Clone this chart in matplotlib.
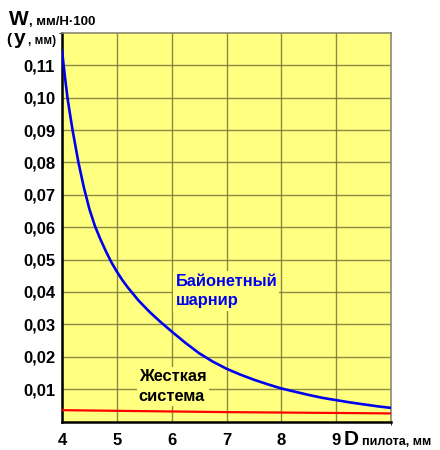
import matplotlib
matplotlib.use("Agg")
import matplotlib.pyplot as plt

plt.rcParams['font.family'] = ['Liberation Sans', 'DejaVu Sans']

# bayonet joint curve
d_bay = [4.00, 4.05, 4.10, 4.15, 4.20, 4.30, 4.40, 4.50, 4.60, 4.70, 4.80, 4.90,
         5.00, 5.10, 5.20, 5.40, 5.60, 5.80, 6.00, 6.25, 6.50, 6.75, 7.00,
         7.25, 7.50, 7.75, 8.00, 8.25, 8.50, 8.75, 9.00, 9.25, 9.50, 9.75, 10.00]
w_bay = [0.1146, 0.1070, 0.1000, 0.0945, 0.0893, 0.0800, 0.0722, 0.0656, 0.0604, 0.0563,
         0.0526, 0.0492, 0.0463, 0.0437, 0.0414, 0.0373, 0.0338, 0.0307, 0.0278, 0.0243,
         0.0211, 0.0185, 0.0163, 0.0145, 0.0129, 0.0115, 0.0102, 0.0092, 0.0082, 0.0073,
         0.0066, 0.0059, 0.0053, 0.0047, 0.0042]

# rigid system
d_rig = [4.0, 7.0, 10.0]
w_rig = [0.0035, 0.0029, 0.0025]

y_ticks = [0.01, 0.02, 0.03, 0.04, 0.05, 0.06, 0.07, 0.08, 0.09, 0.10, 0.11]
x_ticks = [4, 5, 6, 7, 8, 9]

fig = plt.figure(figsize=(4.4, 4.5), dpi=100)
ax = fig.add_axes([62/440, 1 - 421.5/450, 329/440, 388.5/450])
ax.set_facecolor('#FFFF80')

ax.plot(d_bay, w_bay, color='#0000F0', lw=1.9, zorder=3)
ax.plot(d_rig, w_rig, color='#FF0000', lw=1.6, zorder=3)

ax.set_xlim(4, 10)
ax.set_ylim(0, 0.12)
ax.set_xticks(x_ticks)
ax.set_yticks(y_ticks)
ax.set_xticks([10], minor=True)
ax.set_yticks([0.12], minor=True)
ax.set_xticklabels([str(v) for v in x_ticks])
ax.set_yticklabels([f"{v:.2f}".replace('.', ',') for v in y_ticks])
ax.tick_params(length=0, labelsize=12)
ax.tick_params(axis='x', pad=8)
ax.tick_params(axis='y', pad=5)
for lab in ax.get_xticklabels() + ax.get_yticklabels():
    lab.set_fontweight('bold')
ax.grid(True, color='#77773a', lw=1.0, alpha=0.85, zorder=1)

for s in ['left', 'bottom']:
    ax.spines[s].set_linewidth(1.8)
    ax.spines[s].set_color('black')
for s in ['top', 'right']:
    ax.spines[s].set_linewidth(1.2)
    ax.spines[s].set_color('#8a8a70')

box = dict(facecolor='#FFFF80', edgecolor='none', pad=1.5)
ax.text(6.07, 0.0403, 'Байонетный\nшарнир', color='#0000F0', fontsize=11.8,
        fontweight='bold', ha='left', va='center', linespacing=1.4, bbox=box, zorder=4)
ax.text(5.40, 0.0107, 'Жесткая\nсистема', color='black', fontsize=11.8,
        fontweight='bold', ha='left', va='center', linespacing=1.4, bbox=box, zorder=4)

# axis titles
def ftxt(x, y, s, size):
    fig.text(x/440, 1 - y/450, s, fontsize=size, fontweight='bold',
             ha='left', va='baseline')

ftxt(9, 25, 'W', 15)
ftxt(29, 25, ', мм/Н·100', 9.5)
ftxt(6, 44, '(', 11)
ftxt(14, 44, 'у', 15)
ftxt(28, 44, ', мм)', 8.5)

ftxt(344, 445, 'D', 15)
ftxt(362, 445, 'пилота, мм', 9)

fig.savefig('out.png', dpi=100)
